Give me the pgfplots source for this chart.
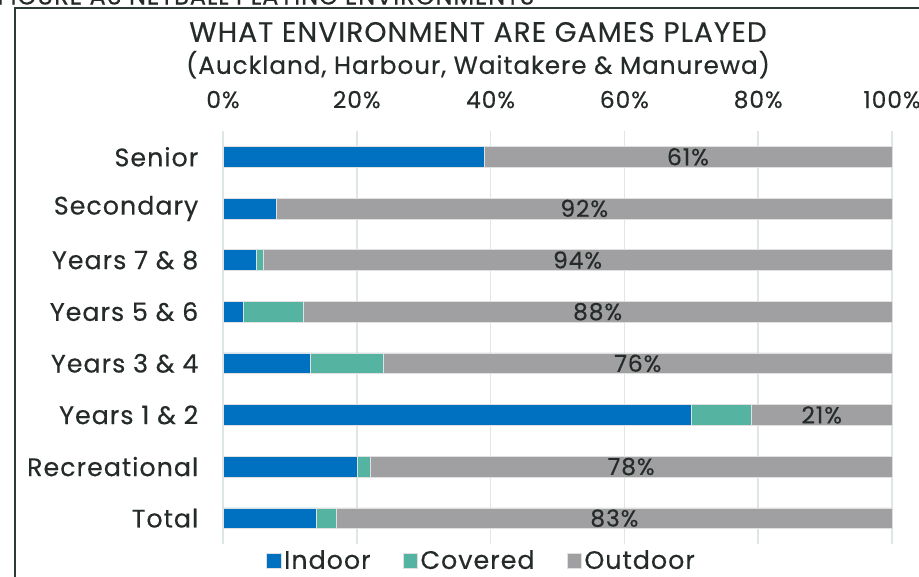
\documentclass[border=0pt]{standalone}
\usepackage{fontspec}
\setmainfont[LetterSpace=4, FakeBold=0.4]{Poppins}
\usepackage{pgfplots}
\pgfplotsset{compat=1.18}
\usepackage{pgfplotstable}

\definecolor{indoor}{HTML}{0070C0}
\definecolor{covered}{HTML}{55B3A1}
\definecolor{outdoor}{HTML}{A0A0A2}
\definecolor{gridc}{HTML}{DFE7E5}
\definecolor{txt}{HTML}{252B28}
\definecolor{framec}{HTML}{2E3A36}

% y: 7 = Senior ... 0 = Total; mid = centre of the outdoor segment
\pgfplotstableread{
y indoor covered outdoor mid
7 39 0 61 69.5
6 8 0 92 54
5 5 1 94 53
4 3 9 88 56
3 13 11 76 62
2 70 9 21 89.5
1 20 2 78 61
0 14 3 83 58.5
}\data

\pgfplotsset{
  base/.style={
    at={(167.25pt,24pt)}, anchor=south west,
    scale only axis, width=501.75pt, height=309.75pt,
    xmin=0, xmax=100, ymin=-0.5, ymax=7.5,
    /pgf/number format/assume math mode=true,
  },
}

\begin{document}
\begin{tikzpicture}[font=\color{txt}]
\useasboundingbox (0,0) rectangle (689.25pt,432pt);
\clip (0,0) rectangle (689.25pt,432pt);

% frame of the figure box and the cut caption above it
\draw[framec, line width=1.4pt] (11.25pt,-2pt) -- (11.25pt,426pt) -- (700pt,426pt);
\node[anchor=base west, inner sep=0pt, font=\fontsize{18}{20}\selectfont\color{txt}]
  at (-2pt,428.6pt) {FIGURE A5 NETBALL PLAYING ENVIRONMENTS};

\node[font=\fontsize{21}{24}\selectfont\color{txt}] at (358.5pt,408pt) {WHAT ENVIRONMENT ARE GAMES PLAYED};
\node[font=\fontsize{18.5}{21}\selectfont\color{txt}] at (358.5pt,383.5pt) {(Auckland, Harbour, Waitakere \& Manurewa)};

\begin{axis}[
  base,
  xbar stacked,
  bar width=15.5pt,
  axis line style={draw=none},
  major tick length=0pt,
  xmajorgrids, grid style={gridc, line width=1.1pt},
  xtick={0,20,...,100},
  xticklabel pos=upper,
  xticklabel={\pgfmathprintnumber{\tick}\%},
  xticklabel style={font=\fontsize{17.5}{20}\selectfont\color{txt}, yshift=13.5pt},
  ytick={0,...,7},
  yticklabels={Total, Recreational, Years 1 \& 2, Years 3 \& 4, Years 5 \& 6, Years 7 \& 8, Secondary, Senior},
  yticklabel style={font=\fontsize{19}{22}\selectfont\color{txt}, xshift=-15pt},
  legend columns=3,
  legend style={draw=none, fill=none, at={(0.387,-0.04)}, anchor=center,
    font=\fontsize{19}{22}\selectfont\color{txt},
    /tikz/every even column/.append style={column sep=22pt}},
  legend image code/.code={\fill[#1] (0pt,-5.5pt) rectangle (11pt,5.5pt);},
]
\addplot[fill=indoor, draw=black!12, line width=0.4pt] table[x=indoor, y=y] {\data};
\addplot[fill=covered, draw=black!12, line width=0.4pt] table[x=covered, y=y] {\data};
\addplot[fill=outdoor, draw=black!12, line width=0.4pt] table[x=outdoor, y=y] {\data};
\legend{Indoor, Covered, Outdoor}
\end{axis}

% labels of the outdoor share, centred in their segments
\begin{axis}[base, hide axis]
\addplot[draw=none, mark=none, point meta=explicit,
  nodes near coords={\pgfmathprintnumber{\pgfplotspointmeta}\%},
  every node near coord/.append style={anchor=center, font=\fontsize{17.5}{20}\selectfont\color{txt}}]
  table[x=mid, y=y, meta=outdoor] {\data};
\end{axis}
\end{tikzpicture}
\end{document}
